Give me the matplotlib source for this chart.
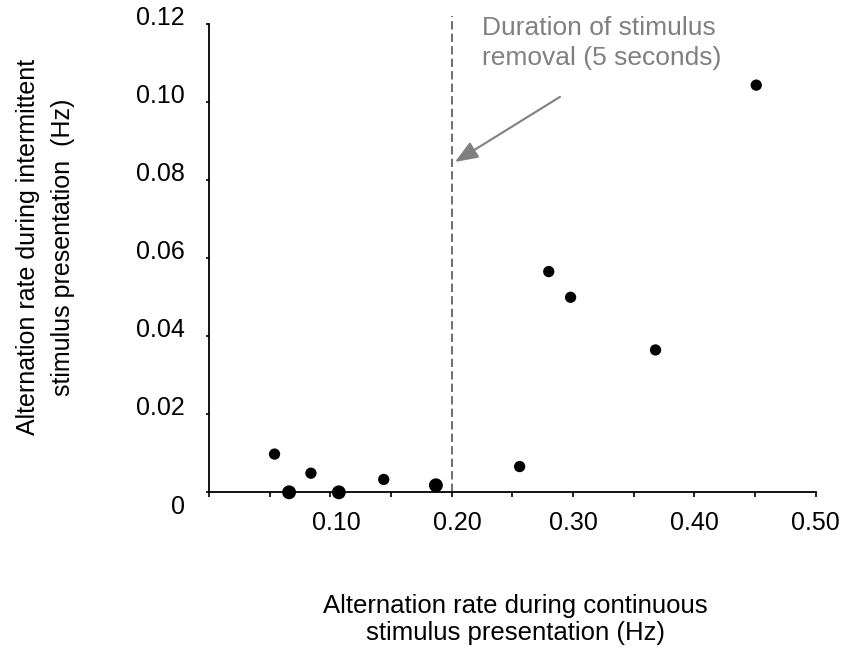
import matplotlib
matplotlib.use("Agg")
import matplotlib.pyplot as plt
import matplotlib.transforms as mtransforms
import numpy as np

plt.rcParams['font.family'] = ['Liberation Sans', 'DejaVu Sans']

# Data
continuous_rate = [0.054, 0.066, 0.084, 0.107, 0.144, 0.187, 0.256, 0.280, 0.298, 0.368, 0.451]
intermittent_rate = [0.0098, 0.0, 0.0049, 0.0, 0.0033, 0.0018, 0.0066, 0.0566, 0.0500, 0.0365, 0.1044]
removal_threshold = 0.20

x_major_ticks = [0.10, 0.20, 0.30, 0.40, 0.50]
x_major_labels = ["0.10", "0.20", "0.30", "0.40", "0.50"]
x_minor_ticks = [0.0, 0.05, 0.15, 0.25, 0.35, 0.45]
y_ticks = [0.0, 0.02, 0.04, 0.06, 0.08, 0.10, 0.12]
y_labels = ["0", "0.02", "0.04", "0.06", "0.08", "0.10", "0.12"]

annotation_text = "Duration of stimulus\nremoval (5 seconds)"
xlabel_text = "Alternation rate during continuous\nstimulus presentation (Hz)"
ylabel_text = "Alternation rate during intermittent\nstimulus presentation  (Hz)"

# style: marker sizes (points^2) - larger where dots overlap
marker_sizes = [66, 100, 66, 100, 66, 100, 66, 66, 66, 66, 66]

fig = plt.figure(figsize=(8.52, 6.56), dpi=100)
ax = fig.add_axes([209/852, 1 - 492.3/656, (815.7-209)/852, (492.3-24.3)/656])

ax.scatter(continuous_rate, intermittent_rate, s=marker_sizes, color='black',
           edgecolors='none', zorder=3, clip_on=False)

ax.set_xlim(0, 0.5)
ax.set_ylim(0, 0.12)

ax.axvline(removal_threshold, ymin=0, ymax=0.1222/0.12, color='#555555',
           linestyle=(0, (5, 2.5)), linewidth=1.2, clip_on=False, zorder=2)

for s in ['top', 'right']:
    ax.spines[s].set_visible(False)
for s in ['left', 'bottom']:
    ax.spines[s].set_linewidth(1.3)

ax.set_xticks(x_major_ticks)
ax.set_xticklabels(x_major_labels, fontsize=18)
ax.set_xticks(x_minor_ticks, minor=True)
ax.set_yticks(y_ticks)
ax.set_yticklabels(y_labels, fontsize=18)
ax.tick_params(axis='x', which='both', direction='out', length=3.5, width=1.2, pad=10)
ax.tick_params(axis='y', which='both', direction='out', length=2.5, width=1.2, pad=15)

# shift tick labels slightly as in the reference
for lab in ax.get_yticklabels():
    dy = -9/72 if lab.get_text() == "0" else 6/72
    lab.set_transform(lab.get_transform() + mtransforms.ScaledTranslation(0, dy, fig.dpi_scale_trans))
for lab in ax.get_xticklabels():
    dx = 4/72 if lab.get_text() in ("0.10", "0.20") else 0
    lab.set_transform(lab.get_transform() + mtransforms.ScaledTranslation(dx, 0, fig.dpi_scale_trans))

ax.set_xlabel(xlabel_text, fontsize=18.5, linespacing=1.15)
ax.xaxis.set_label_coords((515 - 209) / 606.7, -(594 - 492.3) / 468)
ax.set_ylabel(ylabel_text, fontsize=18, linespacing=1.6)
ax.yaxis.set_label_coords((75 - 209) / 606.7, (492.3 - 247) / 468)

ax.text(0.2247, 0.1096, annotation_text, color='#808080', fontsize=19,
        ha='left', va='baseline', linespacing=1.3, clip_on=False)
ax.annotate('', xy=(0.2027, 0.0847), xytext=(0.2893, 0.1014),
            arrowprops=dict(arrowstyle='-|>,head_length=1.4,head_width=0.55',
                            color='#808080', lw=1.5, shrinkA=0, shrinkB=0),
            annotation_clip=False)

fig.savefig('out.png', dpi=100)
